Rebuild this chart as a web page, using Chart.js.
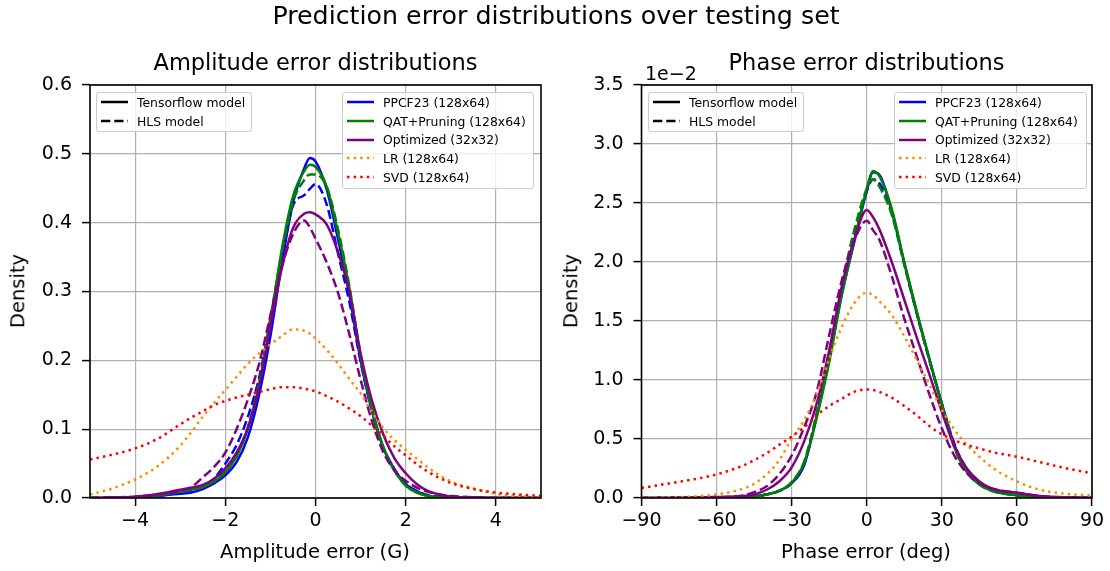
<!DOCTYPE html>
<html>
<head>
<meta charset="utf-8">
<script src="https://cdn.jsdelivr.net/npm/chart.js@4.4.1/dist/chart.umd.min.js"></script>
<style>
  body { margin: 0; background: #fff; font-family: "DejaVu Sans", sans-serif; }
  #fig { position: relative; width: 1110px; height: 571px; overflow: hidden; background: #fff; }
  canvas { position: absolute; top: 0; }
  .txt { position: absolute; transform: translate(-50%, -50%); white-space: nowrap; color: #000; line-height: 1; }
  .legend { position: absolute; background: rgba(255,255,255,0.8); border: 1.3px solid #cccccc; border-radius: 3px;
            font-size: 12.4px; box-sizing: border-box; z-index: 2; }
  .row { height: 18.7px; display: flex; align-items: center; }
  .row svg { margin-left: 3.5px; margin-right: 9.5px; flex: none; }
</style>
</head>
<body>
<div id="fig">
  <canvas id="ampChart" width="555" height="571" style="left:0"></canvas>
  <canvas id="phaseChart" width="555" height="571" style="left:555px"></canvas>

  <div class="txt" style="left:556px; top:16px; font-size:25.3px;">Prediction error distributions over testing set</div>
  <div class="txt" style="left:315.5px; top:62px; font-size:22.5px;">Amplitude error distributions</div>
  <div class="txt" style="left:866.5px; top:62px; font-size:22.5px;">Phase error distributions</div>
  <div class="txt" style="left:315px; top:552px; font-size:19.5px;">Amplitude error (G)</div>
  <div class="txt" style="left:866px; top:552px; font-size:19.5px;">Phase error (deg)</div>
  <div class="txt" style="left:18px; top:291px; font-size:19.5px; transform:translate(-50%,-50%) rotate(-90deg);">Density</div>
  <div class="txt" style="left:571px; top:291px; font-size:19.5px; transform:translate(-50%,-50%) rotate(-90deg);">Density</div>
  <div class="txt" style="left:645px; top:73px; font-size:19px; transform:translate(0,-50%);">1e&minus;2</div>

  <div id="legends"></div>
</div>

<script>
// amplitude error grid (G) and densities
const ampErr = [-5, -4.5, -4, -3.5, -3, -2.75, -2.5, -2.25, -2, -1.75, -1.5, -1.25, -1, -0.75, -0.5, -0.25, -0.125,
                0, 0.25, 0.5, 0.75, 1, 1.25, 1.5, 1.75, 2, 2.25, 2.5, 2.75, 3, 3.5, 4, 4.5, 5];
const ampPpcfTf = [0, 0, 0.001, 0.003, 0.006, 0.008, 0.013, 0.021, 0.033, 0.052, 0.088, 0.15, 0.235, 0.339, 0.429, 0.479, 0.494,
                   0.489, 0.448, 0.376, 0.296, 0.2, 0.127, 0.074, 0.042, 0.02, 0.01, 0.003, 0.001, 0, 0, 0, 0, 0];
const ampPpcfHls = [0, 0, 0.001, 0.003, 0.008, 0.011, 0.015, 0.028, 0.05, 0.077, 0.118, 0.175, 0.258, 0.345, 0.425, 0.44, 0.449,
                    0.456, 0.426, 0.355, 0.285, 0.198, 0.127, 0.074, 0.042, 0.02, 0.01, 0.004, 0.002, 0.001, 0, 0, 0, 0];
const ampQatTf = [0, 0, 0.001, 0.004, 0.009, 0.012, 0.016, 0.024, 0.037, 0.06, 0.1, 0.165, 0.255, 0.36, 0.438, 0.475, 0.484,
                  0.481, 0.452, 0.385, 0.305, 0.206, 0.13, 0.074, 0.04, 0.018, 0.008, 0.003, 0.001, 0, 0, 0, 0, 0];
const ampQatHls = [0, 0, 0.001, 0.004, 0.009, 0.012, 0.016, 0.025, 0.039, 0.062, 0.103, 0.168, 0.262, 0.355, 0.43, 0.462, 0.47,
                   0.47, 0.452, 0.39, 0.308, 0.208, 0.131, 0.074, 0.04, 0.018, 0.008, 0.003, 0.001, 0, 0, 0, 0, 0];
const ampOptTf = [0, 0.001, 0.002, 0.006, 0.012, 0.015, 0.019, 0.028, 0.043, 0.066, 0.102, 0.162, 0.25, 0.333, 0.392, 0.413, 0.415,
                  0.412, 0.397, 0.357, 0.3, 0.21, 0.142, 0.093, 0.058, 0.036, 0.02, 0.01, 0.005, 0.002, 0.001, 0, 0, 0];
const ampOptHls = [0, 0.001, 0.002, 0.005, 0.01, 0.016, 0.03, 0.045, 0.066, 0.1, 0.143, 0.195, 0.265, 0.335, 0.383, 0.403, 0.393,
                   0.377, 0.342, 0.298, 0.238, 0.172, 0.112, 0.067, 0.04, 0.025, 0.015, 0.009, 0.005, 0.003, 0.001, 0, 0, 0];
const ampLr = [0.005, 0.014, 0.027, 0.046, 0.076, 0.096, 0.118, 0.138, 0.157, 0.176, 0.195, 0.21, 0.223, 0.235, 0.245, 0.243, 0.239,
               0.232, 0.215, 0.195, 0.173, 0.152, 0.125, 0.102, 0.084, 0.07, 0.057, 0.044, 0.033, 0.024, 0.014, 0.006, 0.003, 0.001];
const ampSvd = [0.056, 0.063, 0.072, 0.086, 0.107, 0.117, 0.126, 0.135, 0.141, 0.146, 0.15, 0.154, 0.158, 0.161, 0.161, 0.159, 0.157,
                0.155, 0.148, 0.14, 0.13, 0.119, 0.105, 0.091, 0.075, 0.062, 0.049, 0.038, 0.029, 0.022, 0.013, 0.008, 0.005, 0.003];

// phase error grid (deg) and densities, in units of 1e-2
const phaseErr = [-90, -80, -70, -60, -50, -45, -40, -35, -30, -25, -20, -15, -10, -5, 0, 2.5,
                  5, 10, 15, 20, 25, 30, 35, 40, 45, 50, 60, 70, 80, 90];
const phasePpcfTf = [0, 0.001, 0.002, 0.004, 0.01, 0.015, 0.03, 0.06, 0.125, 0.28, 0.69, 1.18, 1.72, 2.17, 2.6, 2.76,
                     2.74, 2.43, 1.99, 1.57, 1.18, 0.8, 0.45, 0.23, 0.125, 0.065, 0.025, 0.008, 0.003, 0.001];
const phasePpcfHls = [0, 0.001, 0.002, 0.004, 0.01, 0.015, 0.03, 0.06, 0.125, 0.29, 0.71, 1.21, 1.76, 2.22, 2.6, 2.7,
                      2.67, 2.42, 1.98, 1.56, 1.17, 0.8, 0.46, 0.24, 0.13, 0.065, 0.025, 0.008, 0.003, 0.001];
const phaseQatTf = [0, 0.001, 0.002, 0.004, 0.01, 0.015, 0.03, 0.06, 0.13, 0.3, 0.68, 1.15, 1.72, 2.18, 2.62, 2.77,
                    2.73, 2.45, 2.0, 1.58, 1.18, 0.79, 0.43, 0.22, 0.115, 0.06, 0.022, 0.007, 0.003, 0.001];
const phaseQatHls = [0, 0.001, 0.002, 0.004, 0.01, 0.015, 0.03, 0.06, 0.135, 0.31, 0.72, 1.24, 1.8, 2.27, 2.62, 2.7,
                     2.64, 2.4, 1.98, 1.57, 1.17, 0.79, 0.43, 0.22, 0.115, 0.06, 0.022, 0.007, 0.003, 0.001];
const phaseOptTf = [0, 0.002, 0.003, 0.008, 0.015, 0.03, 0.07, 0.14, 0.26, 0.48, 0.8, 1.25, 1.79, 2.19, 2.44, 2.38,
                    2.28, 2.0, 1.68, 1.36, 1.05, 0.73, 0.44, 0.25, 0.14, 0.08, 0.045, 0.015, 0.005, 0.002];
const phaseOptHls = [0, 0.002, 0.003, 0.008, 0.02, 0.05, 0.1, 0.2, 0.36, 0.6, 0.9, 1.38, 1.84, 2.18, 2.35, 2.27,
                     2.19, 1.88, 1.52, 1.2, 0.88, 0.59, 0.36, 0.21, 0.13, 0.08, 0.045, 0.015, 0.005, 0.002];
const phaseLr = [0.003, 0.006, 0.012, 0.03, 0.075, 0.12, 0.2, 0.32, 0.5, 0.66, 0.88, 1.18, 1.45, 1.65, 1.74, 1.72,
                 1.67, 1.55, 1.37, 1.17, 0.96, 0.75, 0.58, 0.45, 0.35, 0.26, 0.14, 0.065, 0.035, 0.02];
const phaseSvd = [0.085, 0.12, 0.155, 0.2, 0.27, 0.32, 0.38, 0.45, 0.52, 0.6, 0.7, 0.78, 0.84, 0.9, 0.92, 0.915,
                  0.9, 0.85, 0.78, 0.7, 0.61, 0.54, 0.49, 0.45, 0.42, 0.39, 0.35, 0.3, 0.25, 0.21];

const ampTicksX = [-4, -2, 0, 2, 4];
const ampTicksY = [0, 0.1, 0.2, 0.3, 0.4, 0.5, 0.6];
const phaseTicksX = [-90, -60, -30, 0, 30, 60, 90];
const phaseTicksY = [0, 0.5, 1, 1.5, 2, 2.5, 3, 3.5];

const modelNames = ["PPCF23 (128x64)", "QAT+Pruning (128x64)", "Optimized (32x32)", "LR (128x64)", "SVD (128x64)"];
const kindNames = ["Tensorflow model", "HLS model"];

const FONT = "'DejaVu Sans', sans-serif";
const DASH = [9.25, 4];
const DOT = [2.5, 4.1];

function pts(xs, ys) {
    return xs.map((x, i) => ({ x: x, y: ys[i] }));
}

function line(xs, ys, color, dash) {
    return {
        data: pts(xs, ys),
        borderColor: color,
        borderWidth: 2.5,
        borderDash: dash || [],
        pointRadius: 0,
        fill: false,
        cubicInterpolationMode: "monotone"
    };
}

// matplotlib style box: all four spines on top of the curves
const frame = {
    id: "frame",
    afterDatasetsDraw(chart) {
        const a = chart.chartArea;
        const ctx = chart.ctx;
        ctx.save();
        ctx.strokeStyle = "#000";
        ctx.lineWidth = 1.6;
        ctx.strokeRect(a.left, a.top, a.right - a.left, a.bottom - a.top);
        ctx.restore();
    }
};

function minus(v) {
    return String(v).replace("-", "\u2212");
}

function makeChart(id, datasets, opts) {
    datasets.forEach((d, i) => { d.order = -i; });
    const grid = { color: "#b0b0b0", lineWidth: 1.2, tickLength: 8, tickColor: "#000", tickWidth: 1.5 };
    return new Chart(document.getElementById(id), {
        type: "line",
        data: { datasets: datasets },
        plugins: [frame],
        options: {
            responsive: false,
            animation: false,
            events: [],
            layout: { padding: opts.pad },
            plugins: { legend: { display: false }, tooltip: { enabled: false } },
            scales: {
                x: {
                    type: "linear",
                    min: opts.xMin,
                    max: opts.xMax,
                    afterBuildTicks: s => { s.ticks = opts.xTicks.map(v => ({ value: v })); },
                    afterFit: s => { s.height = 73; },
                    grid: grid,
                    border: { display: false },
                    ticks: { color: "#000", font: { family: FONT, size: 19 }, padding: 4, maxRotation: 0,
                             autoSkip: false, callback: v => minus(v) }
                },
                y: {
                    type: "linear",
                    min: 0,
                    max: opts.yMax,
                    afterBuildTicks: s => { s.ticks = opts.yTicks.map(v => ({ value: v })); },
                    afterFit: s => { s.width = opts.yWidth; },
                    grid: grid,
                    border: { display: false },
                    ticks: { color: "#000", font: { family: FONT, size: 19 }, padding: 10,
                             autoSkip: false, callback: v => v.toFixed(1) }
                }
            }
        }
    });
}

makeChart("ampChart", [
    line(ampErr, ampPpcfTf, "blue"),
    line(ampErr, ampPpcfHls, "blue", DASH),
    line(ampErr, ampQatTf, "green"),
    line(ampErr, ampQatHls, "green", DASH),
    line(ampErr, ampOptTf, "purple"),
    line(ampErr, ampOptHls, "purple", DASH),
    line(ampErr, ampLr, "darkorange", DOT),
    line(ampErr, ampSvd, "red", DOT)
], { xMin: -5, xMax: 5, yMax: 0.6, xTicks: ampTicksX, yTicks: ampTicksY, yWidth: 90,
     pad: { left: 0, right: 14, top: 85, bottom: 0 } });

makeChart("phaseChart", [
    line(phaseErr, phasePpcfTf, "blue"),
    line(phaseErr, phasePpcfHls, "blue", DASH),
    line(phaseErr, phaseQatTf, "green"),
    line(phaseErr, phaseQatHls, "green", DASH),
    line(phaseErr, phaseOptTf, "purple"),
    line(phaseErr, phaseOptHls, "purple", DASH),
    line(phaseErr, phaseLr, "darkorange", DOT),
    line(phaseErr, phaseSvd, "red", DOT)
], { xMin: -90, xMax: 90, yMax: 3.5, xTicks: phaseTicksX, yTicks: phaseTicksY, yWidth: 86.5,
     pad: { left: 0, right: 18, top: 85, bottom: 0 } });

// legends, drawn as html boxes over each axes
function sample(color, dash) {
    return '<svg width="27" height="8"><line x1="0" y1="4" x2="27" y2="4" stroke="' + color +
        '" stroke-width="2.5" stroke-dasharray="' + (dash ? dash.join(" ") : "none") + '"/></svg>';
}

function legendBox(left, top, width, entries) {
    const box = document.createElement("div");
    box.className = "legend";
    box.style.left = left + "px";
    box.style.top = top + "px";
    box.style.width = width + "px";
    box.style.height = (entries.length * 18.7 + 3) + "px";
    box.innerHTML = entries.map(e => '<div class="row">' + sample(e[1], e[2]) + "<span>" + e[0] + "</span></div>").join("");
    document.getElementById("legends").appendChild(box);
}

const kindEntries = [[kindNames[0], "#000", null], [kindNames[1], "#000", DASH]];
const modelEntries = [
    [modelNames[0], "blue", null],
    [modelNames[1], "green", null],
    [modelNames[2], "purple", null],
    [modelNames[3], "darkorange", DOT],
    [modelNames[4], "red", DOT]
];
legendBox(96, 92, 156, kindEntries);
legendBox(342, 92, 192, modelEntries);
legendBox(648, 92, 156, kindEntries);
legendBox(894, 92, 193, modelEntries);
</script>
</body>
</html>
